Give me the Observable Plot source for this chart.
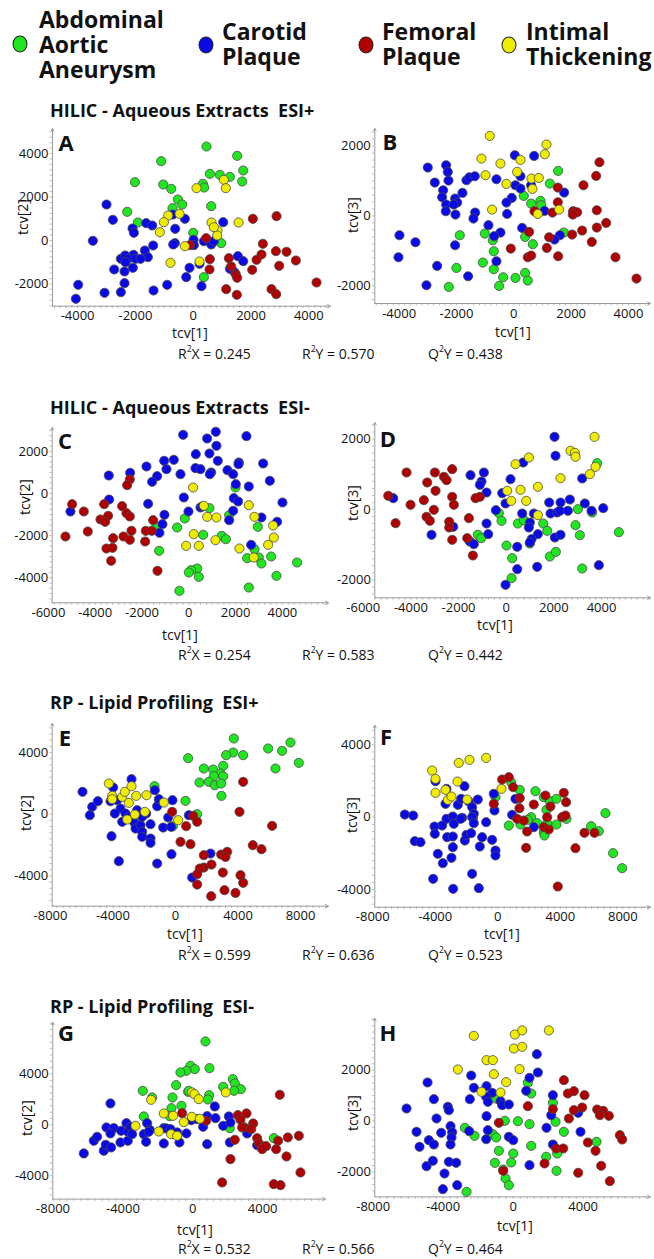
<!DOCTYPE html>
<html><head><meta charset="utf-8">
<script src="https://cdn.jsdelivr.net/npm/d3@7"></script>
<script src="https://cdn.jsdelivr.net/npm/@observablehq/plot@0.6"></script>
<style>
body{margin:0;background:#fff;}
#root{position:relative;width:654px;height:1259px;overflow:hidden;font-family:"Open Sans",sans-serif;color:#111;}
.t{position:absolute;white-space:pre;line-height:1;}
.t sup{font-size:0.62em;position:relative;top:-0.15em;line-height:0;}
svg{position:absolute;overflow:visible;}
.lc{position:absolute;width:13px;height:15px;border-radius:50%;border:1.5px solid #222;transform:translate(-50%,-50%);}
</style></head><body><div id="root"></div>
<script>
// ---- categories & colours ----
const groups = ["Abdominal Aortic Aneurysm", "Carotid Plaque", "Femoral Plaque", "Intimal Thickening"];
const colors = ["#20e620", "#0a0ae8", "#b00000", "#f0ec00"];

// ---- Panel A : HILIC ESI+  tcv[1] vs tcv[2] ----
const A_AAA = [[461,4325],[1522,3896],[-1107,3650],[1730,3221],[577,3067],[923,3021],[1269,2929],[-2018,2684],[-1038,2577],[1696,2715],[-761,2377],[334,2607],[381,2439],[-531,1887],[-381,1656],[-715,1488],[623,1580],[-2284,1319],[-1915,828],[0,353],[969,-123],[369,-1687]];
const A_CP = [[-2999,1656],[-2780,951],[-3472,-15],[-2099,552],[-2053,353],[-1626,798],[-1419,690],[-704,1196],[-288,997],[-623,537],[1038,843],[12,31],[-634,-123],[-692,-184],[369,-31],[23,-215],[623,-184],[715,-31],[-1384,-230],[-1672,-460],[-1569,-767],[-2503,-844],[-2353,-690],[-2065,-660],[-2249,-844],[-1995,-844],[-1822,-844],[-2342,-997],[-2734,-1334],[-2376,-1426],[-2088,-1258],[-2376,-1963],[-127,-1258],[-242,-1687],[219,-1074],[1269,-1304],[1546,-721],[1730,-951],[1430,-1457],[-3979,-2040],[-4060,-2684],[-3068,-2408],[-2503,-2377],[-1372,-2301],[-900,-2040],[288,-2101]];
const A_FP = [[2065,997],[2884,1120],[450,107],[-115,-215],[577,-859],[565,-1334],[1234,-813],[1315,-1196],[1476,-1564],[1522,-1718],[2411,-153],[2364,-644],[2192,-890],[2042,-1350],[2861,-491],[3229,-521],[3553,-920],[2976,-1166],[1142,-2239],[1511,-2500],[2711,-2239],[2872,-2469],[4268,-1933]];
const A_IT = [[115,2408],[1061,2791],[1130,2408],[-865,1150],[-473,1227],[-1015,844],[1569,828],[634,828],[-1153,383],[842,460],[830,230],[715,613],[-288,-261],[-784,-1028],[219,-966]];

// ---- Panel B : HILIC ESI+  tcv[1] vs tcv[3] ----
const B_AAA = [[1547,1289],[1256,926],[349,573],[930,430],[605,353],[953,306],[1744,-477],[-1012,-506],[-733,-697],[395,-601],[663,-811],[-698,-1012],[-1884,-554],[-1081,-1337],[-698,-1527],[-2000,-1489],[-372,-1757],[58,-1776],[395,-1632],[488,-1852],[-512,-2005],[-2267,-2033]];
const B_CP = [[-3000,1384],[-2360,1451],[-2302,1260],[-2756,955],[-2279,1012],[-2465,735],[-1791,659],[-2500,535],[-2047,496],[-1977,382],[-2360,325],[-2093,325],[-2372,134],[-2035,38],[-1651,1021],[-1547,1107],[-1360,1136],[-1349,95],[-1407,-76],[-605,1050],[35,1737],[709,1718],[233,1136],[58,878],[233,783],[605,878],[-70,515],[-256,382],[-233,57],[1070,143],[1756,668],[291,-344],[-884,-267],[-465,-477],[-686,-582],[1605,-554],[1419,-678],[-2047,-840],[-3988,-554],[-3430,-754],[-4023,-1184],[-2674,-1432],[-605,-1298],[-1593,-1728],[-3047,-1986]];
const B_FP = [[2988,1537],[2872,1146],[2430,878],[1535,811],[1535,391],[721,134],[1349,95],[2070,134],[2209,105],[2058,38],[2895,162],[3221,-200],[2895,-334],[2384,-420],[2035,-535],[2721,-745],[1233,-611],[535,-458],[-105,-936],[1151,-917],[1547,-1155],[488,-1184],[605,-1136],[3547,-1184],[4279,-1795]];
const B_IT = [[-837,2291],[1140,2043],[1081,1766],[-1128,1642],[233,1604],[-465,1499],[-988,1165],[116,1260],[616,1069],[872,1088],[-256,916],[651,773],[-756,181],[1581,181],[837,57]];

// ---- Panel C : HILIC ESI-  tcv[1] vs tcv[2] ----
const C_AAA = [[1994,285],[883,-696],[-171,-1187],[-499,-1614],[-1382,-1566],[-1268,-2722],[613,-1962],[1410,-2009],[1581,-2168],[1724,-1028],[2949,-1582],[2806,-2642],[2493,-3070],[2991,-3038],[3105,-3323],[3519,-2991],[4630,-3275],[3746,-3908],[2564,-4462],[356,-3560],[100,-3639],[0,-3750],[427,-3956],[-399,-4620]];
const C_CP = [[-242,2785],[1154,2927],[783,2611],[2464,2722],[299,1867],[883,1899],[1182,2263],[1239,1551],[-641,1598],[-1054,1551],[285,1203],[499,1155],[-356,918],[-954,1155],[-1809,1282],[-1353,823],[-1567,554],[-2507,981],[-3419,854],[954,997],[897,918],[1652,1108],[1895,918],[2137,1472],[2123,1392],[3177,1424],[2009,443],[2564,332],[3462,601],[1923,-222],[2108,-380],[4003,-427],[-214,-190],[-14,-854],[499,-665],[570,-617],[1895,-823],[1724,-1266],[3105,-1139],[3775,-1345],[2664,-2437],[-3405,-285],[-1738,-491],[-1040,-1013],[-1125,-1456],[-1254,-1867],[-5057,-854]];
const C_FP = [[-4986,-506],[-4487,-854],[-4316,-1804],[-5271,-2041],[-3618,-506],[-3447,-1060],[-3775,-1234],[-3575,-1345],[-2849,-601],[-2664,-934],[-2521,-1092],[-2450,-1772],[-2792,-2041],[-3234,-2120],[-3519,-2611],[-3262,-2579],[-3319,-3196],[-2521,665],[-2635,396],[-2521,-2199],[-1838,-1772],[-1581,-1772],[-1524,-1266],[-1866,-2278],[-1339,-3671]];
const C_IT = [[185,285],[641,-585],[783,-1108],[1182,-1139],[214,-1930],[-114,-2484],[427,-2484],[1140,-2215],[2564,-554],[2806,-1108],[2165,-2611],[2778,-3038],[3390,-2437],[3604,-1519],[3632,-2089]];

// ---- Panel D : HILIC ESI-  tcv[1] vs tcv[3] ----
const D_AAA = [[3818,1318],[-308,-104],[-196,-322],[-1189,-720],[-1049,-815],[14,-1024],[252,-1384],[224,-1953],[490,-398],[741,-303],[993,-967],[1552,-398],[1720,-607],[1832,-1336],[2084,-1204],[3007,9],[2909,-446],[3091,-730],[3608,-85],[3189,-1678],[4727,-645]];
const D_CP = [[-4741,322],[-3133,-720],[-2224,-493],[-1497,976],[-1035,796],[-1105,701],[-937,1052],[-825,483],[-168,464],[182,862],[-28,171],[-434,-19],[-825,-398],[-755,-701],[-1524,-910],[-1357,-986],[671,-114],[993,-370],[1161,-114],[951,-512],[1329,-701],[1063,-844],[993,-938],[462,-1062],[462,-1697],[-28,-2142],[1301,-1630],[1804,199],[1860,-114],[2140,-85],[2280,199],[2253,-38],[2588,-38],[2672,284],[2042,-796],[2280,-720],[3301,171],[3580,-38],[4070,38],[3189,882],[2028,2066],[2070,1526],[713,1336],[3888,-1583]];
const D_FP = [[-4951,389],[-4643,-389],[-4182,1052],[-4014,133],[-3455,265],[-3315,768],[-2993,1052],[-2965,531],[-3035,-9],[-3343,-209],[-3203,-322],[-2615,929],[-2503,834],[-2266,1147],[-2266,360],[-2196,133],[-2392,-351],[-2392,-512],[-2266,-863],[-1566,-246],[-1287,322],[-1105,360],[-1636,-815],[-1399,-1308]];
const D_IT = [[42,531],[601,559],[210,246],[839,246],[392,1289],[951,1479],[1329,645],[1329,-161],[2280,891],[2699,1668],[2881,1611],[2909,1498],[3706,2066],[3748,1213],[3510,1005]];

// ---- Panel E : RP ESI+  tcv[1] vs tcv[2] ----
const E_AAA = [[3731,4908],[3689,4000],[3241,3827],[4328,3827],[810,3632],[5928,4259],[7356,4649],[6823,4108],[7889,3330],[6397,2962],[1812,2962],[2409,2897],[3049,3135],[2878,2638],[2452,2465],[3049,2465],[2132,2097],[2516,1881],[2921,1989],[1535,2054],[2942,1189],[640,865],[-1343,1816],[1386,0],[-171,-778]];
const E_CP = [[-5949,1449],[-5330,476],[-5480,-65],[-4968,843],[-3987,1730],[-2814,2270],[-4158,843],[-3731,908],[-3518,368],[-3881,43],[-3198,43],[-3411,-497],[-2985,-173],[-2623,-562],[-2559,-930],[-2239,-714],[-2132,-1146],[-2132,-1470],[-1599,-1578],[-1599,-1859],[-1599,-649],[-1876,43],[-2452,259],[-1322,1557],[-1173,519],[-1066,973],[-192,908],[-469,-216],[-789,-865],[-277,-822],[853,-65],[-256,-2595],[2239,-2551],[1066,-4108],[-4094,-1427],[-3625,-3049],[-1173,-3200],[-2132,-173]];
const E_FP = [[4328,2097],[4094,151],[6183,-757],[-213,151],[1130,-108],[1386,-497],[682,-778],[320,-1795],[959,-1946],[4947,-2011],[5501,-2270],[1812,-2659],[2921,-2616],[3305,-2443],[3198,-2768],[2303,-3265],[1812,-3459],[1556,-3524],[1386,-3892],[3028,-3784],[4158,-3957],[1386,-4562],[4328,-4454],[3134,-4930],[3838,-5103],[2281,-5319]];
const E_IT = [[-4264,1989],[-4051,1189],[-4051,973],[-3411,1124],[-3241,1449],[-2814,1816],[-2516,1189],[-2985,735],[-3092,-346],[-2601,-22],[-1961,151],[-1855,1232],[-746,757],[171,-389]];

// ---- Panel F : RP ESI+  tcv[1] vs tcv[3] ----
const F_AAA = [[853,1930],[1407,1507],[2409,1434],[-149,1103],[2942,1103],[3326,882],[3752,1011],[3113,404],[2132,0],[1919,-147],[1450,-404],[704,-460],[2516,-331],[3156,-331],[2942,-827],[2985,-1011],[3752,-404],[4392,-92],[6887,221],[5970,-496],[6461,-772],[7377,-1985],[7953,-2813],[-1578,-37]];
const F_CP = [[-5949,147],[-5416,92],[-5309,-1324],[-4947,-1379],[-3987,1985],[-3284,1563],[-3348,735],[-2559,680],[-2345,1011],[-2132,1710],[-1855,864],[-1279,974],[-1642,551],[-1535,184],[-1642,0],[-1535,-331],[-746,-276],[-256,1287],[-213,368],[1130,1011],[917,129],[-3284,-92],[-3561,-460],[-4051,-515],[-4030,-919],[-2878,37],[-2281,-37],[-2814,-368],[-2388,-92],[-3241,-1103],[-2878,-1066],[-2111,-1287],[-2004,-974],[-1706,-882],[-1002,-1103],[-362,-1250],[-1151,-1618],[-2878,-1654],[-3838,-2022],[-2964,-2243],[-3518,-2537],[-1642,-3125],[-4136,-3401],[-2857,-3952],[-1215,-3915],[-149,-1838],[-149,-2114],[2303,-551]];
const F_FP = [[277,2077],[704,2206],[981,1654],[1407,1048],[1386,496],[-256,735],[1237,-92],[1663,-184],[1876,-790],[1812,-1691],[2303,699],[3049,1195],[3369,588],[3156,0],[2942,-551],[3262,-680],[4222,1342],[4371,827],[4115,0],[4328,92],[4968,-1710],[5544,-864],[6183,-864],[3838,-3824]];
const F_IT = [[-4200,2574],[-3987,2114],[-3987,1342],[-3348,1507],[-3198,956],[-2964,1140],[-2495,2996],[-1812,3162],[-746,3272],[-2580,1967],[-1962,974],[235,1563]];

// ---- Panel G : RP ESI-  tcv[1] vs tcv[2] ----
const G_AAA = [[725,6562],[954,4462],[-134,4646],[115,4383],[-363,4252],[-706,4121],[-954,3123],[2290,3596],[2405,3255],[1737,2992],[2748,2808],[2366,2677],[935,2336],[859,1995],[-267,2598],[-2863,2677],[-2328,2152],[-1164,2152],[-1221,1312],[-649,1496],[-2805,656],[-1317,682],[2118,-262],[4637,-1050],[-229,2677]];
const G_CP = [[-6240,-2257],[-5668,-1260],[-5477,-945],[-5095,-2047],[-4943,-210],[-4981,-1575],[-4676,-1785],[-4523,-262],[-4714,-682],[-4714,1680],[-4103,-472],[-4141,-1391],[-3798,131],[-3721,-551],[-3721,-1260],[-3569,-157],[-3473,-735],[-2805,-735],[-2615,131],[-2462,-394],[-2519,-551],[-2672,-1339],[-1660,-262],[-1660,-1470],[-1508,-289],[-1279,-341],[-897,-604],[-763,-1391],[-363,-682],[-95,367],[248,446],[821,682],[592,-157],[821,-1522],[1260,1444],[1298,525],[1737,-79],[2061,656],[2156,184],[2118,-1391],[3111,-682],[3683,-1601]];
const G_FP = [[-611,919],[763,315],[2576,761],[3073,892],[2729,394],[2958,-210],[2824,-210],[3454,105],[3340,-341],[3683,-1050],[3779,-1444],[4065,-1732],[3969,-1916],[4198,-1680],[2405,-1181],[2156,-2703],[4981,2362],[4885,-1260],[4771,-1916],[5439,-997],[6069,-866],[5363,-2493],[1679,-4541],[4637,-4672],[5019,-4751],[6164,-3753]];
const G_IT = [[-2385,1969],[-38,2546],[95,2415],[344,2021],[1889,2546],[-1660,892],[-1126,709],[-515,210],[-57,630],[401,472],[-3282,-79],[-1947,-525],[-1240,-735],[-897,-866]];

// ---- Panel H : RP ESI-  tcv[1] vs tcv[3] ----
const H_AAA = [[-2762,-269],[-2210,-584],[-1162,-518],[-971,-649],[-1010,885],[-476,7],[267,-7],[933,-125],[838,1502],[1029,1082],[2267,715],[2419,-33],[2895,-426],[1029,-977],[-819,-1174],[0,-1279],[-114,-1633],[-1048,-1646],[-571,-1908],[-438,-2262],[-248,-2525],[-2667,-2787],[1886,-1410],[2514,-1279],[2476,-1961],[4762,-820]];
const H_CP = [[1352,2630],[1410,1908],[933,1698],[743,1187],[-2400,1790],[-2248,1305],[-1524,1370],[-1200,1108],[-1543,951],[-1448,754],[-724,780],[-629,623],[-248,649],[-4895,1515],[-4533,859],[-3733,557],[-3676,426],[-2476,859],[-6095,492],[-4381,98],[-5524,-426],[-4819,-754],[-4533,-924],[-4114,-466],[-3581,-203],[-3486,-439],[-3524,-649],[-3581,-924],[-2514,-400],[-1524,190],[-1448,-361],[-1543,-715],[-248,-623],[0,-754],[-5352,-1016],[-4952,-1777],[-4590,-1567],[-3924,-2066],[-3676,-1607],[-3257,-1646],[-3200,-2525],[-4019,-2682],[1905,-269],[2267,1016],[2171,230],[2267,-924],[933,-1738],[3714,321],[3848,-426]];
const H_FP = [[2895,1607],[3124,1082],[3467,1174],[4076,1016],[3943,531],[3467,426],[3181,98],[4800,452],[5143,400],[4952,230],[5467,203],[838,584],[2267,466],[-819,-72],[2457,-1082],[2857,-1082],[4267,-846],[4705,-1174],[5029,-1764],[3714,-2039],[1790,-1672],[-571,-1961],[5524,-2367],[6095,-557],[6229,-728]];
const H_IT = [[-2248,3351],[95,3403],[514,3564],[2038,3564],[38,2852],[514,2918],[-1524,2393],[-1162,2393],[-3162,2026],[-1105,1843],[362,2039],[-400,1528],[-1810,1148],[-724,1121]];

// ---- tick labels ----
const ticksAB_x = [-4000,-2000,0,2000,4000];
const ticksA_y = [-2000,0,2000,4000];
const ticksB_y = [-2000,0,2000];
const ticksCD_x = [-6000,-4000,-2000,0,2000,4000];
const ticksC_y = [-4000,-2000,0,2000];
const ticksD_y = [-2000,0,2000];
const ticksEF_x = [-8000,-4000,0,4000,8000];
const ticksEF_y = [-4000,0,4000];
const ticksGH_x = [-8000,-4000,0,4000];
const ticksG_y = [-4000,0,4000];
const ticksH_y = [-2000,0,2000];

const titles = ["HILIC - Aqueous Extracts  ESI+", "HILIC - Aqueous Extracts  ESI-", "RP - Lipid Profiling  ESI+", "RP - Lipid Profiling  ESI-"];
const R2X = ["0.245","0.254","0.599","0.532"];
const R2Y = ["0.570","0.583","0.636","0.566"];
const Q2Y = ["0.438","0.442","0.523","0.464"];

// ---- layout (pixel geometry) ----
const panels = [
 {id:"A", sets:[A_AAA,A_CP,A_FP,A_IT], left:0, x0:52, x1:330, y0:128, y1:305.7, kx:28.9, zx:192.7, ky:21.73, zy:240, xt:ticksAB_x, yt:ticksA_y, xm:200, ym:250, ylab:"tcv[2]", lab:[66,142], xl:[190,333], yl:[23,217]},
 {id:"B", sets:[B_AAA,B_CP,B_FP,B_IT], left:330, x0:374.3, x1:650, y0:128.3, y1:303.3, kx:28.67, zx:513.3, ky:34.92, zy:215.7, xt:ticksAB_x, yt:ticksB_y, xm:200, ym:200, ylab:"tcv[3]", lab:[390,141], xl:[513,332], yl:[353,215]},
 {id:"C", sets:[C_AAA,C_CP,C_FP,C_IT], left:0, x0:51.7, x1:328, y0:426.7, y1:602, kx:23.4, zx:188.3, ky:21.07, zy:492.7, xt:ticksCD_x, yt:ticksC_y, xm:250, ym:250, ylab:"tcv[2]", lab:[65,440], xl:[180,635], yl:[25,497]},
 {id:"D", sets:[D_AAA,D_CP,D_FP,D_IT], left:330, x0:374.3, x1:650, y0:421.7, y1:597, kx:23.83, zx:505.7, ky:35.17, zy:508.7, xt:ticksCD_x, yt:ticksD_y, xm:250, ym:200, ylab:"tcv[3]", lab:[388,438], xl:[495,625], yl:[353,503]},
 {id:"E", sets:[E_AAA,E_CP,E_FP,E_IT], left:0, x0:51.7, x1:328, y0:723.3, y1:906, kx:15.63, zx:175, ky:15.42, zy:814, xt:ticksEF_x, yt:ticksEF_y, xm:400, ym:400, ylab:"tcv[2]", lab:[65,737], xl:[185,934], yl:[26,813]},
 {id:"F", sets:[F_AAA,F_CP,F_FP,F_IT], left:330, x0:374.3, x1:650, y0:725, y1:906.7, kx:15.63, zx:497.3, ky:18.13, zy:816.7, xt:ticksEF_x, yt:ticksEF_y, xm:400, ym:400, ylab:"tcv[3]", lab:[386,736], xl:[502,934], yl:[352,815]},
 {id:"G", sets:[G_AAA,G_CP,G_FP,G_IT], left:0, x0:52.3, x1:325, y0:1021.7, y1:1198.3, kx:17.47, zx:192.3, ky:12.7, zy:1124, xt:ticksGH_x, yt:ticksG_y, xm:400, ym:500, ylab:"tcv[2]", lab:[66,1032], xl:[195,1230], yl:[27,1118]},
 {id:"H", sets:[H_AAA,H_CP,H_FP,H_IT], left:330, x0:374.3, x1:650, y0:1018.3, y1:1196.7, kx:17.5, zx:512.7, ky:25.42, zy:1120.8, xt:ticksGH_x, yt:ticksH_y, xm:400, ym:250, ylab:"tcv[3]", lab:[388,1032], xl:[515,1226], yl:[353,1113]}
];

const root = document.getElementById("root");
function put(html, x, y, css, tx) {
  const d = document.createElement("div");
  d.className = "t";
  d.innerHTML = html;
  d.style.cssText += `left:${x}px;top:${y}px;transform:${tx || "translate(0,-50%)"};` + (css || "");
  root.appendChild(d);
  return d;
}

const fmt = d => String(d);
const MT = 8, MB = 34, MR = 4;
panels.forEach(p => {
  const xd = [(p.x0 - p.zx) / p.kx * 1000, (p.x1 - p.zx) / p.kx * 1000];
  const yd = [(p.zy - p.y1) / p.ky * 1000, (p.zy - p.y0) / p.ky * 1000];
  const W = p.x1 - p.left + MR, H = (p.y1 - p.y0) + MT + MB;
  const minorX = d3.range(Math.ceil(xd[0] / p.xm) * p.xm, xd[1], p.xm);
  const minorY = d3.range(Math.ceil(yd[0] / p.ym) * p.ym, yd[1], p.ym);
  const marks = [
    Plot.axisX({ticks: minorX, tickSize: 2.5, tickFormat: () => "", stroke: "#b0b0b0", strokeWidth: 0.8}),
    Plot.axisY({ticks: minorY, tickSize: 2.5, tickFormat: () => "", stroke: "#b0b0b0", strokeWidth: 0.8}),
    Plot.axisX({ticks: p.xt, tickSize: 0, tickPadding: 5, tickFormat: fmt, fontSize: 13}),
    Plot.axisY({ticks: p.yt, tickSize: 0, tickPadding: 4, tickFormat: fmt, fontSize: 13}),
    Plot.arrow([0], {x1: () => xd[0], x2: () => xd[1], y1: () => yd[0], y2: () => yd[0], stroke: "#9a9a9a", strokeWidth: 1, headLength: 5}),
    Plot.arrow([0], {x1: () => xd[0], x2: () => xd[0], y1: () => yd[0], y2: () => yd[1], stroke: "#9a9a9a", strokeWidth: 1, headLength: 4})
  ];
  p.sets.forEach((s, i) => {
    marks.push(Plot.dot(s, {x: d => d[0], y: d => d[1], r: 4.6, fill: colors[i], stroke: "#4a4a4a", strokeWidth: 0.8, fillOpacity: 1}));
  });
  const svg = Plot.plot({
    width: W, height: H,
    marginLeft: p.x0 - p.left, marginRight: MR, marginTop: MT, marginBottom: MB,
    x: {domain: xd, axis: null}, y: {domain: yd, axis: null},
    style: {fontFamily: "'Open Sans', sans-serif", fontSize: "13px", color: "#111", background: "transparent", overflow: "visible"},
    marks
  });
  svg.style.left = p.left + "px";
  svg.style.top = (p.y0 - MT) + "px";
  svg.style.maxWidth = "none";
  root.appendChild(svg);
  // panel letter
  put(p.id, p.lab[0], p.lab[1], "font-weight:700;font-size:22px;", "translate(-50%,-50%)");
  // axis labels
  put("tcv[1]", p.xl[0], p.xl[1], "font-size:14px;", "translate(-50%,-50%)");
  put(p.ylab, p.yl[0], p.yl[1], "font-size:14px;", "translate(-50%,-50%) rotate(-90deg)");
});

// titles
const titleY = [110, 407, 702, 1006];
titles.forEach((t, i) => put(t, 50, titleY[i], "font-weight:700;font-size:18px;"));

// statistics rows
const statY = [354, 655, 955, 1249];
statY.forEach((y, i) => {
  put(`R<sup>2</sup>X = ${R2X[i]}`, 178, y, "font-size:14px;");
  put(`R<sup>2</sup>Y = ${R2Y[i]}`, 302, y, "font-size:14px;");
  put(`Q<sup>2</sup>Y = ${Q2Y[i]}`, 428, y, "font-size:14px;");
});

// legend
const legendLines = [["Abdominal","Aortic","Aneurysm"],["Carotid","Plaque"],["Femoral","Plaque"],["Intimal","Thickening"]];
const legendCircle = [[20,44],[206,45],[366,45],[509,45]];
const legendTextX = [39, 222, 382, 526];
legendLines.forEach((lines, i) => {
  const c = document.createElement("div");
  c.className = "lc";
  c.style.left = legendCircle[i][0] + "px";
  c.style.top = legendCircle[i][1] + "px";
  c.style.background = colors[i];
  root.appendChild(c);
  put(lines.join("\n"), legendTextX[i], 44, "font-weight:700;font-size:23px;line-height:25px;");
});
</script></body></html>
